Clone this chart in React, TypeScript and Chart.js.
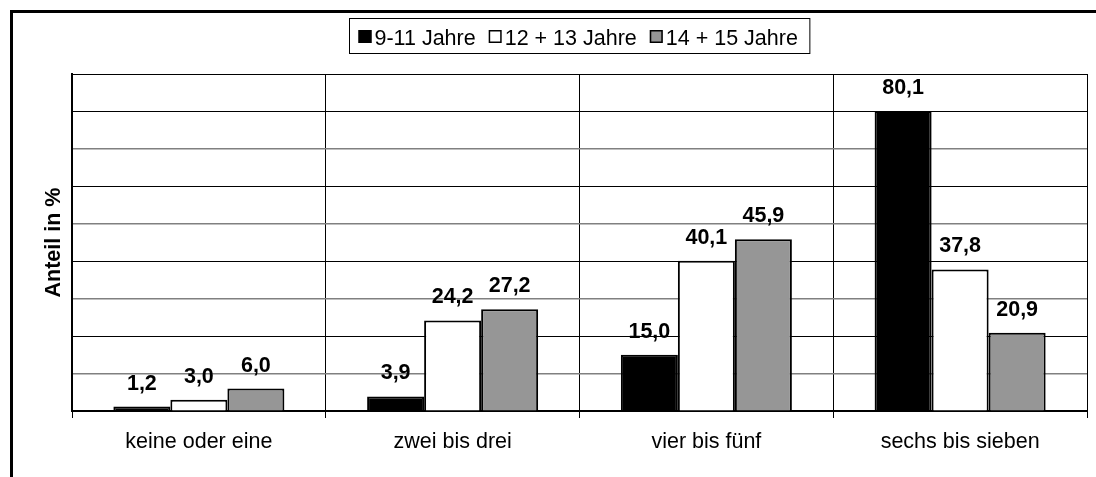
import React, { useEffect, useRef } from "react";
import { Chart, registerables } from "chart.js";

Chart.register(...registerables);

const categories = ["keine oder eine", "zwei bis drei", "vier bis fünf", "sechs bis sieben"];
const seriesLabels = ["9-11 Jahre", "12 + 13 Jahre", "14 + 15 Jahre"];
const age9to11 = [1.2, 3.9, 15.0, 80.1];
const age12to13 = [3.0, 24.2, 40.1, 37.8];
const age14to15 = [6.0, 27.2, 45.9, 20.9];
const seriesColors = ["#000000", "#ffffff", "#969696"];
const yMin = 0;
const yMax = 90;
const yStep = 10;
const yTitle = "Anteil in %";

const FONT = '"Liberation Sans", Arial, sans-serif';
const W = 1096;
const H = 477;

const fmt = (v: number) => v.toFixed(1).replace(".", ",");

const overlayPlugin = {
  id: "overlay",
  beforeDraw(chart: any) {
    const ctx = chart.ctx;
    ctx.save();
    ctx.fillStyle = "#ffffff";
    ctx.fillRect(0, 0, chart.width, chart.height);
    ctx.restore();
  },
  afterDraw(chart: any) {
    const ctx = chart.ctx;
    const area = chart.chartArea;
    ctx.save();

    // outer frame
    ctx.strokeStyle = "#000";
    ctx.lineWidth = 3;
    ctx.strokeRect(11.5, 11.5, chart.width + 20, chart.height + 20);

    // data labels
    ctx.fillStyle = "#000";
    ctx.font = `bold 21.5px ${FONT}`;
    ctx.textAlign = "center";
    ctx.textBaseline = "alphabetic";
    chart.data.datasets.forEach((ds: any, di: number) => {
      const meta = chart.getDatasetMeta(di);
      meta.data.forEach((el: any, i: number) => {
        ctx.fillText(fmt(ds.data[i]), el.x, el.y - 17);
      });
    });

    // y title
    ctx.save();
    ctx.translate(60, (area.top + area.bottom) / 2);
    ctx.rotate(-Math.PI / 2);
    ctx.textAlign = "center";
    ctx.textBaseline = "alphabetic";
    ctx.font = `bold 21.5px ${FONT}`;
    ctx.fillText(yTitle, 0, 0);
    ctx.restore();

    // legend
    ctx.font = `21.5px ${FONT}`;
    const marker = 13;
    const gapMT = 3;
    const gapItem = 13;
    const padL = 9;
    const padR = 12;
    const widths = seriesLabels.map((l) => ctx.measureText(l).width);
    const itemsW = widths.reduce((a, w) => a + marker + gapMT + w, 0) + gapItem * (seriesLabels.length - 1);
    const boxW = padL + itemsW + padR;
    const cx = (area.left + area.right) / 2;
    const boxL = Math.round(cx - boxW / 2) + 0.5;
    const boxT = 18.5;
    const boxH = 35;
    ctx.lineWidth = 1;
    ctx.strokeStyle = "#000";
    ctx.strokeRect(boxL, boxT, boxW, boxH);
    let x = boxL + padL;
    ctx.textAlign = "left";
    seriesLabels.forEach((l, i) => {
      ctx.fillStyle = seriesColors[i];
      ctx.fillRect(x, 30, marker, marker);
      ctx.strokeStyle = "#000";
      ctx.lineWidth = 1.5;
      ctx.strokeRect(x + 0.75, 30.75, marker - 1.5, marker - 1.5);
      ctx.fillStyle = "#000";
      ctx.fillText(l, x + marker + gapMT, 45);
      x += marker + gapMT + widths[i] + gapItem;
    });

    ctx.restore();
  },
};

export default function App() {
  const ref = useRef<HTMLCanvasElement>(null);
  useEffect(() => {
    const canvas = ref.current!;
    const mk = (label: string, data: number[], color: string) => ({
      label,
      data,
      backgroundColor: color,
      borderColor: "#000",
      borderWidth: 2,
    });
    const chart = new Chart(canvas, {
      type: "bar",
      data: {
        labels: categories,
        datasets: [
          mk(seriesLabels[0], age9to11, seriesColors[0]),
          mk(seriesLabels[1], age12to13, seriesColors[1]),
          mk(seriesLabels[2], age14to15, seriesColors[2]),
        ],
      },
      plugins: [overlayPlugin],
      options: {
        responsive: false,
        animation: false,
        devicePixelRatio: 1,
        layout: { padding: { left: 72, top: 74, right: 9, bottom: 0 } },
        datasets: { bar: { categoryPercentage: 0.674, barPercentage: 1 } },
        plugins: { legend: { display: false }, tooltip: { enabled: false } },
        scales: {
          x: {
            grid: { color: "#000", lineWidth: 1, tickLength: 7, offset: true, drawTicks: true },
            border: { color: "#000", width: 2 },
            ticks: {
              color: "#000",
              font: { family: FONT, size: 21.5 },
              padding: 11,
              maxRotation: 0,
              autoSkip: false,
            },
            afterFit: (s: any) => {
              s.height = 66;
            },
          },
          y: {
            min: yMin,
            max: yMax,
            ticks: { display: false, stepSize: yStep },
            grid: {
              drawTicks: false,
              color: (c: any) => (c.index % 2 === 1 && c.index !== 9 ? "#808080" : "#000"),
              lineWidth: (c: any) => (c.index % 2 === 1 && c.index !== 9 ? 1.5 : 1),
            },
            border: { color: "#000", width: 2 },
            afterFit: (s: any) => {
              s.width = 0;
            },
          },
        },
      },
    } as any);
    return () => chart.destroy();
  }, []);
  return (
    <div style={{ position: "fixed", left: 0, top: 0, width: W, height: H, background: "#fff" }}>
      <canvas ref={ref} width={W} height={H} style={{ display: "block" }} />
    </div>
  );
}
